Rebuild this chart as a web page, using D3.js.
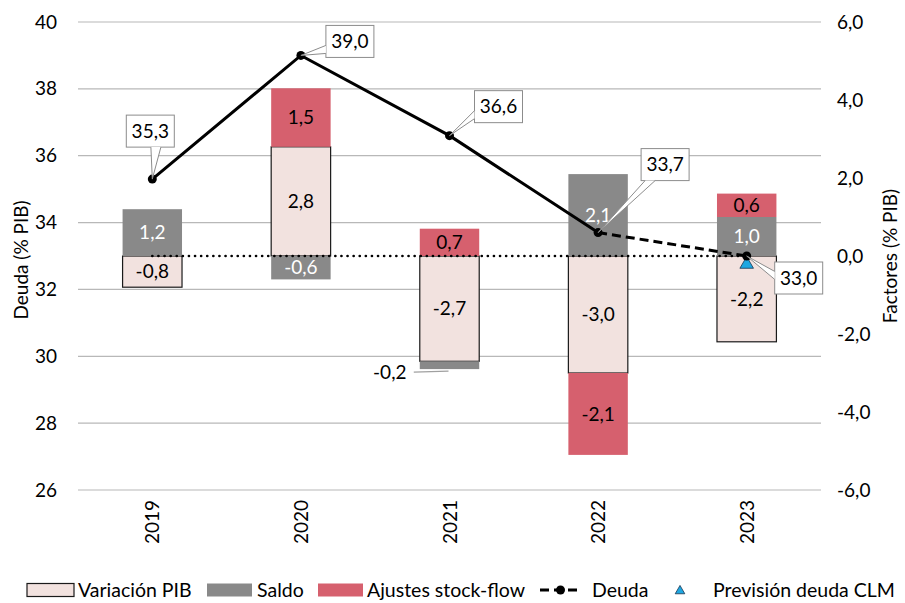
<!DOCTYPE html>
<html><head><meta charset="utf-8">
<script src="https://cdn.jsdelivr.net/npm/d3@7"></script>
<style>
body{margin:0;background:#fff;}
text{font-family:Lato,"Open Sans",sans-serif;}
</style></head>
<body><svg id="c" width="905" height="603"></svg>
<script>
const years = ["2019","2020","2021","2022","2023"];
const variacionPIB = [-0.8, 2.8, -2.7, -3.0, -2.2];
const saldo = [1.2, -0.6, -0.2, 2.1, 1.0];
const ajustes = [null, 1.5, 0.7, -2.1, 0.6];
const deuda = [35.3, 39.0, 36.6, 33.7, 33.0];
const prevision = [null, null, null, null, 32.75];
const referencia = [33.0, 33.0, 33.0, 33.0, 33.0];
const leftTicks = [26, 28, 30, 32, 34, 36, 38, 40];
const rightTicks = [-6, -4, -2, 0, 2, 4, 6];
const legendLabels = ["Variación PIB", "Saldo", "Ajustes stock-flow", "Deuda", "Previsión deuda CLM"];

const fmt = v => d3.format(".1f")(v).replace(".", ",").replace("−","-");
const svg = d3.select("#c");
const L = 78, R = 821, T = 22, B = 490;
const x = d3.scaleBand().domain(years).range([L, R]).paddingInner(0.6).paddingOuter(0.3);
const cx = y => x(y) + x.bandwidth()/2;
const yL = d3.scaleLinear().domain([26, 40]).range([B, T]);
const yR = d3.scaleLinear().domain([-6, 6]).range([B, T]);
const FS = 19;

// gridlines
svg.append("g").selectAll("line").data(leftTicks).join("line")
  .attr("x1", L).attr("x2", R).attr("y1", d => yL(d)).attr("y2", d => yL(d))
  .attr("stroke", "#b8b8b8").attr("stroke-width", 1.2);

// left axis
const gl = svg.append("g").attr("transform", `translate(${L},0)`)
  .call(d3.axisLeft(yL).tickValues(leftTicks).tickSize(0).tickPadding(21).tickFormat(d3.format("d")));
gl.select(".domain").remove();
gl.selectAll("text").attr("font-size", FS).attr("fill", "#000").style("font-family", "Lato");
// right axis
const gr = svg.append("g").attr("transform", `translate(${R},0)`)
  .call(d3.axisRight(yR).tickValues(rightTicks).tickSize(0).tickPadding(16).tickFormat(fmt));
gr.select(".domain").remove();
gr.selectAll("text").attr("font-size", FS).attr("fill", "#000").style("font-family", "Lato");

svg.append("text").attr("transform", `translate(28,${(T+B)/2 + 4}) rotate(-90)`)
  .attr("text-anchor", "middle").attr("font-size", FS).text("Deuda (% PIB)");
svg.append("text").attr("transform", `translate(897,${(T+B)/2}) rotate(-90)`)
  .attr("text-anchor", "middle").attr("font-size", FS).text("Factores (% PIB)");

// x labels
svg.append("g").selectAll("text").data(years).join("text")
  .attr("transform", d => `translate(${cx(d)+7},500) rotate(-90)`)
  .attr("text-anchor", "end").attr("font-size", FS).text(d => d);

// stacked bars
const rows = years.map((y, i) => ({year: y, pib: variacionPIB[i], saldo: saldo[i], aj: ajustes[i] || 0}));
const keys = ["pib", "saldo", "aj"];
const stack = d3.stack().keys(keys).offset(d3.stackOffsetDiverging)(rows);
const fills = {pib: "#f2e2df", saldo: "#898989", aj: "#d6606e"};
const labelColor = {pib: "#000", saldo: "#fff", aj: "#000"};
const gb = svg.append("g");
stack.forEach(s => {
  s.forEach(d => {
    const v = d.data[s.key];
    if (!v) return;
    const y0 = yR(d[0]), y1 = yR(d[1]);
    gb.append("rect").attr("x", x(d.data.year)).attr("width", x.bandwidth())
      .attr("y", Math.min(y0, y1)).attr("height", Math.abs(y1 - y0))
      .attr("fill", fills[s.key])
      .attr("stroke", s.key === "pib" ? "#1a1a1a" : "none").attr("stroke-width", 1.2);
  });
});
// bar labels
stack.forEach(s => {
  s.forEach(d => {
    const v = d.data[s.key];
    if (!v) return;
    const ym = (yR(d[0]) + yR(d[1])) / 2;
    if (Math.abs(v) < 0.5) {
      const tx = x(d.data.year) - 30;
      svg.append("line").attr("x1", tx + 24).attr("x2", cx(d.data.year) - 1)
        .attr("y1", ym + 7).attr("y2", ym + 6).attr("stroke", "#a0a0a0").attr("stroke-width", 1.2);
      svg.append("text").attr("x", tx).attr("y", ym + 7).attr("dy", "0.35em")
        .attr("text-anchor", "middle").attr("font-size", FS).text(fmt(v));
    } else {
      svg.append("text").attr("x", cx(d.data.year)).attr("y", ym).attr("dy", "0.35em")
        .attr("text-anchor", "middle").attr("font-size", FS).attr("fill", labelColor[s.key]).text(fmt(v));
    }
  });
});

// reference dotted line
svg.append("path").datum(referencia)
  .attr("d", d3.line().x((d, i) => cx(years[i])).y(d => yL(d)))
  .attr("fill", "none").attr("stroke", "#000").attr("stroke-width", 2.6)
  .attr("stroke-dasharray", "0.1 6").attr("stroke-linecap", "round");

// deuda line: solid through 2022, dashed 2022-2023
const pts = deuda.map((d, i) => [cx(years[i]), yL(d)]);
const line = d3.line();
svg.append("path").attr("d", line(pts.slice(0, 4))).attr("fill", "none")
  .attr("stroke", "#000").attr("stroke-width", 3);
svg.append("path").attr("d", line(pts.slice(3))).attr("fill", "none")
  .attr("stroke", "#000").attr("stroke-width", 3).attr("stroke-dasharray", "9 5");

// prevision triangle
prevision.forEach((v, i) => {
  if (v == null) return;
  const px = cx(years[i]), py = yL(v);
  svg.append("path").attr("d", d3.symbol(d3.symbolTriangle, 80)())
    .attr("transform", `translate(${px},${py})`)
    .attr("fill", "#1ea7e1").attr("stroke", "#1a3550").attr("stroke-width", 0.8);
});

svg.selectAll(".pt").data(pts).join("circle").attr("class", "pt")
  .attr("cx", d => d[0]).attr("cy", d => d[1]).attr("r", 4.5).attr("fill", "#000");

// callout labels for deuda
const offsets = [[-2, -48], [49, -14], [49, -29], [67, -68], [52, 22]];
const bw = 48, bh = 32;
pts.forEach((p, i) => {
  const bx = p[0] + offsets[i][0] - bw/2, by = p[1] + offsets[i][1] - bh/2;
  const g = svg.append("g");
  g.append("rect").attr("x", bx).attr("y", by).attr("width", bw).attr("height", bh)
    .attr("fill", "#fff").attr("stroke", "#8c8c8c").attr("stroke-width", 1);
  const ccx = bx + bw/2, ccy = by + bh/2;
  let a, b;
  const dx = p[0] - ccx, dy = p[1] - ccy;
  if (Math.abs(dy) / bh > Math.abs(dx) / bw) {
    const ey = dy > 0 ? by + bh : by;
    const ex = Math.max(bx + 4, Math.min(bx + bw - 14, ccx + dx * 0.3));
    a = [ex, ey]; b = [ex + 10, ey];
  } else {
    const ex = dx > 0 ? bx + bw : bx;
    const ey = Math.max(by + 4, Math.min(by + bh - 12, ccy + dy * 0.3));
    a = [ex, ey]; b = [ex, ey + 8];
  }
  g.append("path").attr("d", `M${a}L${p}L${b}Z`).attr("fill", "#fff").attr("stroke", "none");
  g.append("path").attr("d", `M${a}L${p}L${b}`).attr("fill", "none").attr("stroke", "#8c8c8c").attr("stroke-width", 1);
  g.append("text").attr("x", ccx).attr("y", ccy).attr("dy", "0.35em")
    .attr("text-anchor", "middle").attr("font-size", FS).text(fmt(deuda[i]));
});

// legend
const lg = svg.append("g").attr("transform", "translate(0,590)");
const LFS = 19.5;
const txt = (x0, t) => lg.append("text").attr("x", x0).attr("y", 0).attr("dy", "0.35em").attr("font-size", LFS).text(t);
lg.append("rect").attr("x", 27).attr("y", -6.5).attr("width", 47).attr("height", 13)
  .attr("fill", fills.pib).attr("stroke", "#1a1a1a").attr("stroke-width", 1.2);
txt(78, legendLabels[0]);
lg.append("rect").attr("x", 207).attr("y", -6.5).attr("width", 45).attr("height", 13).attr("fill", fills.saldo);
txt(257, legendLabels[1]);
lg.append("rect").attr("x", 318).attr("y", -6.5).attr("width", 45).attr("height", 13).attr("fill", fills.aj);
txt(367, legendLabels[2]);
lg.append("line").attr("x1", 540).attr("x2", 581).attr("y1", 0).attr("y2", 0)
  .attr("stroke", "#000").attr("stroke-width", 3).attr("stroke-dasharray", "9 5");
lg.append("circle").attr("cx", 560.5).attr("cy", 0).attr("r", 4.5).attr("fill", "#000");
txt(592, legendLabels[3]);
lg.append("path").attr("d", d3.symbol(d3.symbolTriangle, 40)()).attr("transform", "translate(680,1)")
  .attr("fill", "#1ea7e1").attr("stroke", "#1a3550").attr("stroke-width", 0.8);
txt(713, legendLabels[4]);
</script></body></html>
